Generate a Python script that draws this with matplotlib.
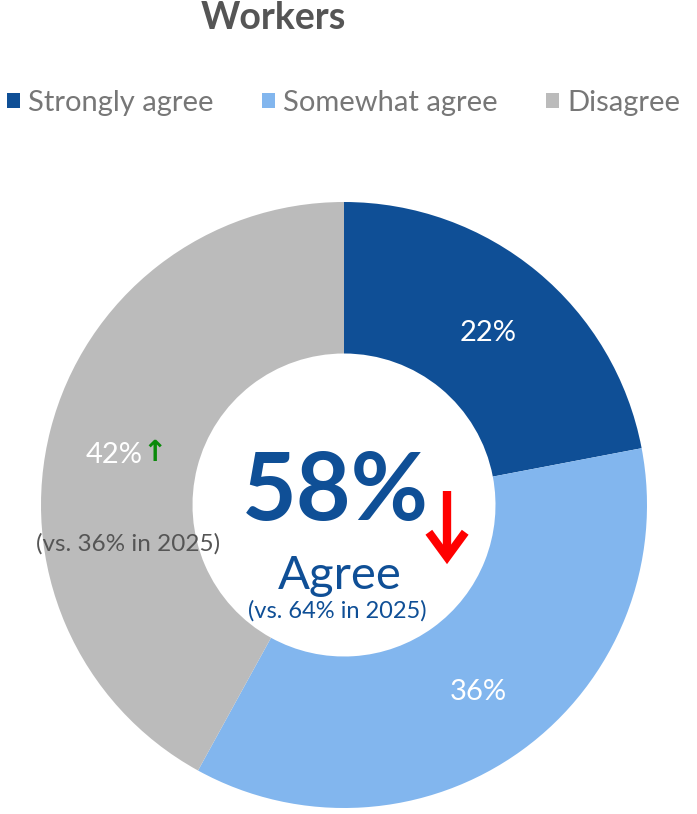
import matplotlib
matplotlib.use('Agg')
import matplotlib.pyplot as plt

plt.rcParams['font.family'] = ['Lato', 'DejaVu Sans']

title = 'Workers'
categories = ['Strongly agree', 'Somewhat agree', 'Disagree']
shares = [22, 36, 42]
colors = ['#0F4F96', '#82B6EE', '#BBBBBB']
agree_now = 58
agree_prev = 64
disagree_prev = 36
prev_year = 2025

fig = plt.figure(figsize=(6.97, 8.14), dpi=100)
ax = fig.add_axes([41/697, 6/814, 606/697, 606/814])

wedges, _ = ax.pie(shares, colors=colors, startangle=90, counterclock=False,
                   radius=1, wedgeprops=dict(width=0.5, linewidth=0))
ax.set_xlim(-1, 1)
ax.set_ylim(-1, 1)
ax.set_aspect('equal')

# slice labels
ax.text(0.475, 0.568, f'{shares[0]}%', color='white', fontsize=21, ha='center', va='center')
ax.text(0.442, -0.617, f'{shares[1]}%', color='white', fontsize=21, ha='center', va='center')
ax.text(-0.665, 0.165, f'{shares[2]}%', color='white', fontsize=21, ha='right', va='center')
ax.text(-0.665, 0.172, '↑', color='#0A8A0A', fontsize=21, fontweight='bold',
        ha='left', va='center', family='DejaVu Sans')
ax.text(-0.713, -0.129, f'(vs. {disagree_prev}% in {prev_year})', color='#555555',
        fontsize=17.5, ha='center', va='center')

# centre
ax.text(-0.03, 0.04, f'{agree_now}%', color='#0F4F96', fontsize=68, fontweight='bold',
        ha='center', va='center')
# red down arrow
ax.plot([0.34, 0.34], [0.045, -0.165], color='#FF0000', lw=6, solid_capstyle='butt')
ax.plot([0.28, 0.34, 0.40], [-0.09, -0.172, -0.09], color='#FF0000', lw=6,
        solid_joinstyle='miter', solid_capstyle='butt')
ax.text(-0.013, -0.235, 'Agree', color='#0F4F96', fontsize=34, ha='center', va='center')
ax.text(-0.023, -0.35, f'(vs. {agree_prev}% in {prev_year})', color='#0F4F96',
        fontsize=17, ha='center', va='center')

fig.text(273/697, 1 - 18/814, title, color='#555555', fontsize=27, fontweight='bold',
         ha='center', va='center')

fig.legend(wedges, categories, loc='center', bbox_to_anchor=(0.493, 1 - 103/814), ncol=3,
           frameon=False, fontsize=21, labelcolor='#777777', handlelength=0.45,
           handleheight=0.45, handletextpad=0.28, columnspacing=1.65)

fig.savefig('out.png', dpi=100)
